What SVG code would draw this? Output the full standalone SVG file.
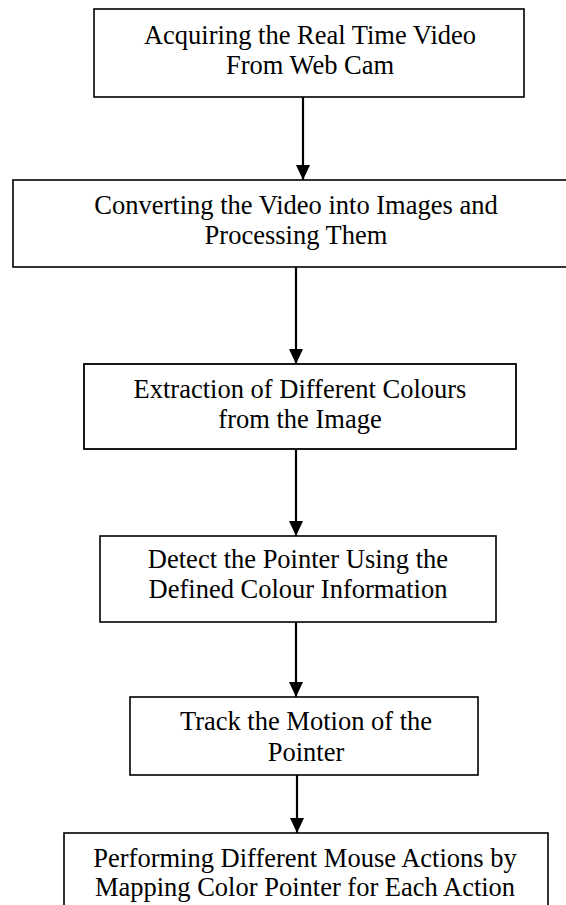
<svg xmlns="http://www.w3.org/2000/svg" width="566" height="905" viewBox="0 0 566 905">
<defs>
<style>
.box{fill:#fff;stroke:#000;stroke-width:1.6}
.t{font-family:"Liberation Serif","Times New Roman",serif;font-size:26.5px;fill:#000;text-anchor:middle}
.c{stroke:#000;stroke-width:2.2;fill:none;marker-end:url(#ah)}
</style>
<marker id="ah" viewBox="0 0 15 14" refX="15" refY="7" markerWidth="15" markerHeight="14" markerUnits="userSpaceOnUse" orient="auto">
<path d="M0,0 L15,7 L0,14 z" fill="#000"/>
</marker>
</defs>
<rect width="566" height="905" fill="#fff"/>
<g id="connectors">
<line class="c" x1="303" y1="97" x2="303" y2="180"/>
<line class="c" x1="296" y1="267" x2="296" y2="364"/>
<line class="c" x1="296" y1="449" x2="296" y2="536"/>
<line class="c" x1="296" y1="622" x2="296" y2="697"/>
<line class="c" x1="297" y1="775" x2="297" y2="833"/>
</g>
<g id="n1">
<rect class="box" x="94" y="9" width="430" height="88"/>
<text class="t" x="310" y="44">Acquiring the Real Time Video</text>
<text class="t" x="310" y="74">From Web Cam</text>
</g>
<g id="n2">
<rect class="box" x="13" y="180" width="566" height="87"/>
<text class="t" x="296" y="214">Converting the Video into Images and</text>
<text class="t" x="296" y="244">Processing Them</text>
</g>
<g id="n3">
<rect class="box" x="84" y="364" width="432" height="85" style="stroke-width:1.8"/>
<text class="t" x="300" y="398">Extraction of  Different Colours</text>
<text class="t" x="300" y="428">from the Image</text>
</g>
<g id="n4">
<rect class="box" x="100" y="536" width="396" height="86"/>
<text class="t" x="298" y="568">Detect the Pointer Using the</text>
<text class="t" x="298" y="598">Defined Colour Information</text>
</g>
<g id="n5">
<rect class="box" x="130" y="697" width="348" height="78"/>
<text class="t" x="306" y="730">Track the Motion of the</text>
<text class="t" x="306" y="761">Pointer</text>
</g>
<g id="n6">
<rect class="box" x="64" y="833" width="484" height="90"/>
<text class="t" x="305" y="867">Performing Different Mouse Actions by</text>
<text class="t" x="305" y="896">Mapping Color Pointer for Each Action</text>
</g>
</svg>
